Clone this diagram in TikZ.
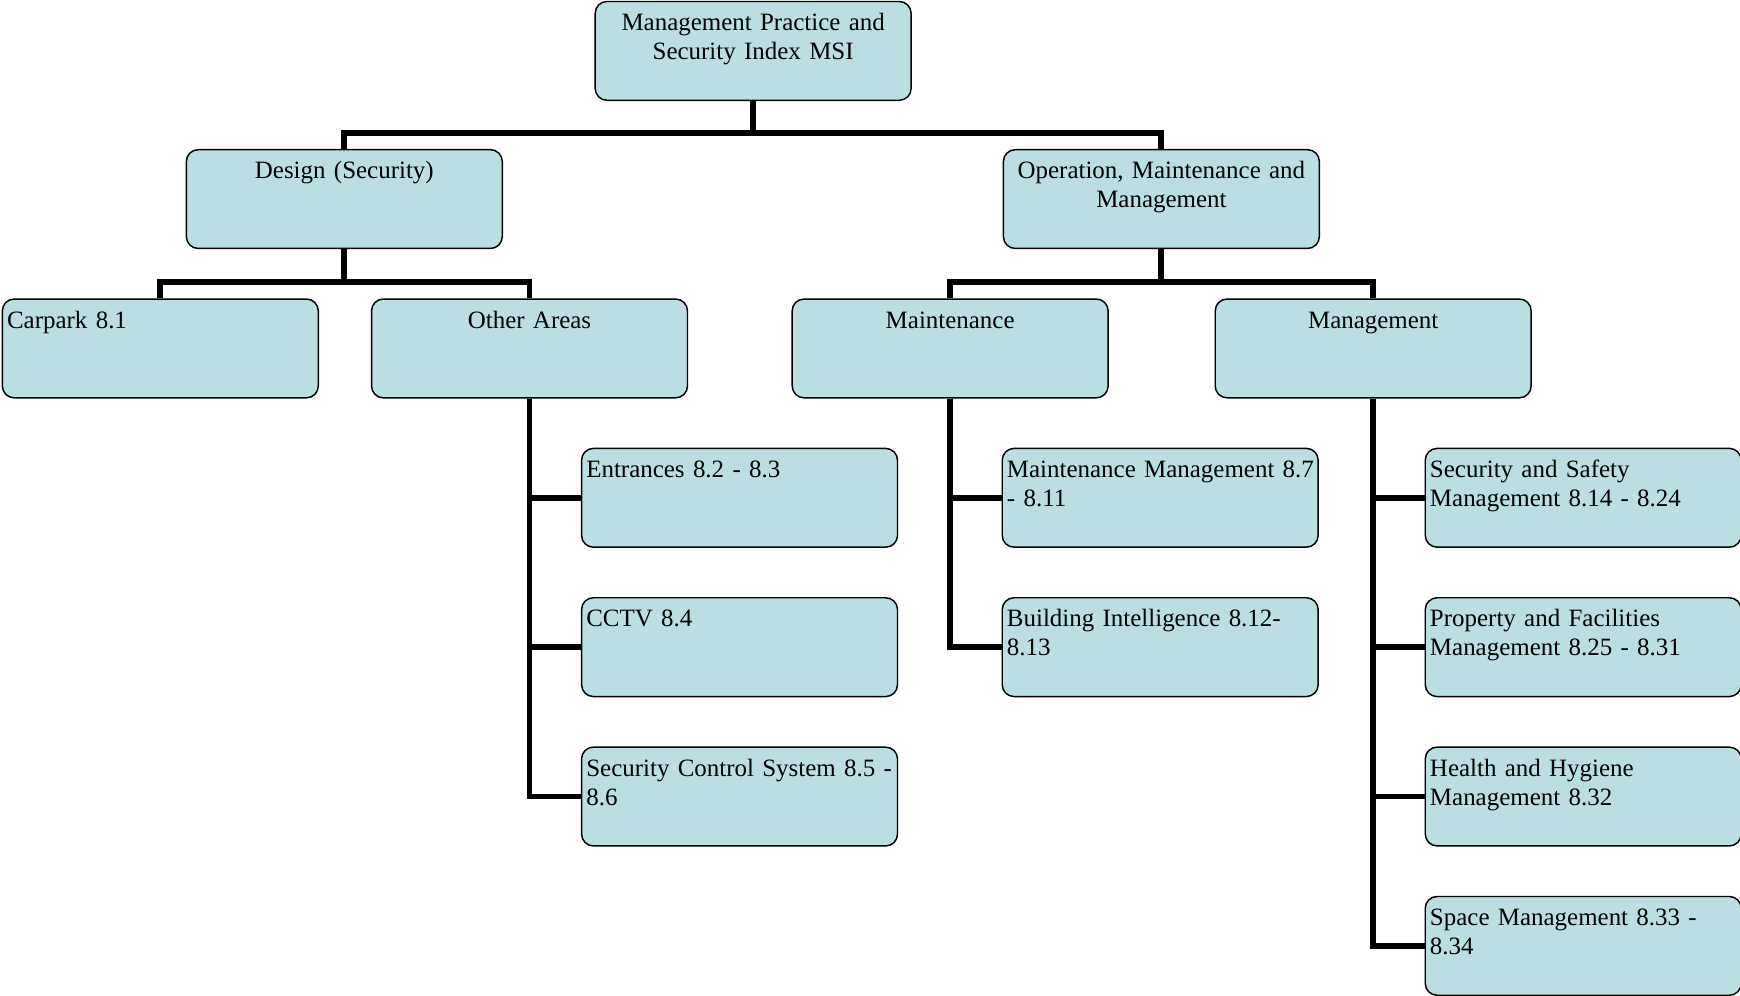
\documentclass[tikz,border=0pt]{standalone}
\usepackage{fontspec}
\setmainfont{Liberation Serif}
\usepackage{xcolor}
\usepackage{tikz}
\usetikzlibrary{positioning}

\definecolor{boxfill}{RGB}{185,223,227}

\begin{document}
\begin{tikzpicture}
\tikzstyle{box} = [rectangle, rounded corners=0.2cm, draw, line width=0.7pt, fill=boxfill, text width=5.18cm, minimum width=5.34cm, inner xsep=0.08cm, inner ysep=0pt, text height=0.49cm, text depth=1.18cm, align=center, font=\fontsize{12pt}{13.9pt}\selectfont]
\tikzstyle{leaf} = [box, align=left]
\tikzstyle{link} = [line width=2.8pt]

\useasboundingbox (0,0) rectangle (29.41,-16.82);

% top
\node (msi) [box] at (12.73,-0.86) {Management Practice and\\Security Index MSI};

% second level
\node (design) [box, below=0.81cm of msi, xshift=-6.91cm] {Design (Security)};
\node (omm) [box, below=0.81cm of msi, xshift=6.90cm] {Operation, Maintenance and\\Management};

% third level
\node (carpark) [leaf, below=0.83cm of design, xshift=-3.11cm] {Carpark 8.1};
\node (other) [box, below=0.83cm of design, xshift=3.13cm] {Other Areas};
\node (maint) [box, below=0.83cm of omm, xshift=-3.57cm] {Maintenance};
\node (mgmt) [box, below=0.83cm of omm, xshift=3.58cm] {Management};

% other areas
\node (entr) [leaf, below=0.83cm of other, xshift=3.55cm] {Entrances 8.2 - 8.3};
\node (cctv) [leaf, below=0.83cm of entr] {CCTV 8.4};
\node (scs) [leaf, below=0.83cm of cctv] {Security Control System 8.5 -\\8.6};

% maintenance
\node (mm) [leaf, below=0.83cm of maint, xshift=3.55cm] {\mbox{Maintenance Management 8.7}\\- 8.11};
\node (bi) [leaf, below=0.83cm of mm] {Building Intelligence 8.12-\\8.13};

% management
\node (ssm) [leaf, below=0.83cm of mgmt, xshift=3.55cm] {Security and Safety\\Management 8.14 - 8.24};
\node (pfm) [leaf, below=0.83cm of ssm] {Property and Facilities\\Management 8.25 - 8.31};
\node (hhm) [leaf, below=0.83cm of pfm] {Health and Hygiene\\Management 8.32};
\node (spm) [leaf, below=0.83cm of hhm] {Space Management 8.33 -\\8.34};

\draw [link] (msi.south) -- ++(0,-0.54) -| (design.north);
\draw [link] (msi.south) -- ++(0,-0.54) -| (omm.north);
\draw [link] (design.south) -- ++(0,-0.55) -| (carpark.north);
\draw [link] (design.south) -- ++(0,-0.55) -| (other.north);
\draw [link] (omm.south) -- ++(0,-0.55) -| (maint.north);
\draw [link] (omm.south) -- ++(0,-0.55) -| (mgmt.north);

\draw [link] (other.south) |- (entr.west);
\draw [link] (other.south) |- (cctv.west);
\draw [link] (other.south) |- (scs.west);
\draw [link] (maint.south) |- (mm.west);
\draw [link] (maint.south) |- (bi.west);
\draw [link] (mgmt.south) |- (ssm.west);
\draw [link] (mgmt.south) |- (pfm.west);
\draw [link] (mgmt.south) |- (hhm.west);
\draw [link] (mgmt.south) |- (spm.west);

\end{tikzpicture}
\end{document}
